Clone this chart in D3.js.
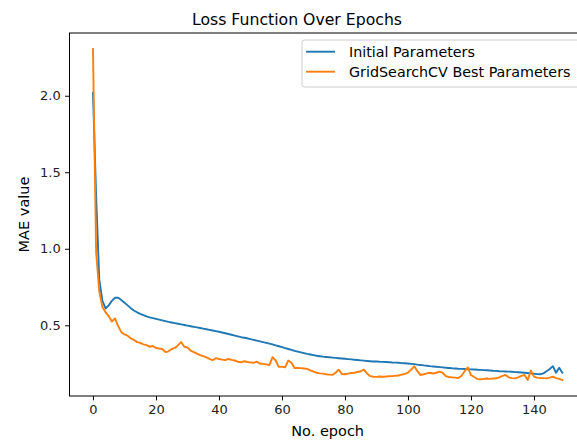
<!DOCTYPE html>
<html>
<head>
<meta charset="utf-8">
<script src="https://cdn.jsdelivr.net/npm/d3@7"></script>
<style>
  html, body { margin: 0; padding: 0; background: #fff; }
  svg { display: block; font-family: "DejaVu Sans", sans-serif; }
</style>
</head>
<body>
<svg id="chart" width="577" height="441"></svg>
<script>
// MAE per epoch, model trained with the initial hyper-parameters
const initialLoss = [
  2.02, 1.35, 0.80, 0.66, 0.61, 0.63, 0.66, 0.68, 0.68, 0.665,
  0.648, 0.63, 0.612, 0.597, 0.585, 0.575, 0.566, 0.558, 0.552, 0.547,
  0.542, 0.537, 0.532, 0.527, 0.522, 0.518, 0.514, 0.51, 0.506, 0.502,
  0.498, 0.494, 0.49, 0.486, 0.482, 0.478, 0.474, 0.47, 0.466, 0.462,
  0.458, 0.453, 0.448, 0.443, 0.438, 0.433, 0.428, 0.423, 0.419, 0.415,
  0.41, 0.405, 0.4, 0.395, 0.39, 0.385, 0.38, 0.375, 0.369, 0.363,
  0.357, 0.351, 0.345, 0.339, 0.333, 0.328, 0.323, 0.318, 0.313, 0.309,
  0.305, 0.301, 0.298, 0.295, 0.293, 0.291, 0.289, 0.287, 0.285, 0.283,
  0.281, 0.279, 0.277, 0.275, 0.273, 0.271, 0.269, 0.267, 0.265, 0.263,
  0.264, 0.262, 0.261, 0.26, 0.259, 0.257, 0.256, 0.255, 0.253, 0.252,
  0.25, 0.248, 0.246, 0.243, 0.241, 0.238, 0.236, 0.233, 0.231, 0.229,
  0.227, 0.225, 0.223, 0.221, 0.219, 0.218, 0.216, 0.215, 0.214, 0.213,
  0.212, 0.211, 0.21, 0.209, 0.207, 0.206, 0.205, 0.203, 0.202, 0.2,
  0.199, 0.198, 0.197, 0.196, 0.194, 0.193, 0.192, 0.19, 0.188, 0.186,
  0.183, 0.181, 0.18, 0.186, 0.2, 0.215, 0.233, 0.19, 0.222, 0.19
];

// MAE per epoch, model trained with the GridSearchCV best hyper-parameters
const tunedLoss = [
  2.305, 0.98, 0.72, 0.62, 0.585, 0.56, 0.525, 0.545, 0.495, 0.455,
  0.44, 0.432, 0.415, 0.405, 0.39, 0.385, 0.375, 0.37, 0.36, 0.365,
  0.352, 0.348, 0.345, 0.325, 0.33, 0.345, 0.352, 0.37, 0.39, 0.36,
  0.355, 0.335, 0.325, 0.315, 0.305, 0.298, 0.29, 0.28, 0.272, 0.285,
  0.28, 0.276, 0.272, 0.28, 0.274, 0.27, 0.262, 0.258, 0.265, 0.26,
  0.258, 0.255, 0.262, 0.25, 0.248, 0.245, 0.24, 0.292, 0.27, 0.228,
  0.23, 0.225, 0.27, 0.255, 0.22, 0.222, 0.22, 0.218, 0.215, 0.205,
  0.198, 0.19, 0.186, 0.184, 0.18, 0.178, 0.176, 0.19, 0.21, 0.182,
  0.18, 0.184, 0.188, 0.19, 0.195, 0.2, 0.21, 0.185, 0.168, 0.164,
  0.163, 0.165, 0.164, 0.165, 0.167, 0.168, 0.17, 0.172, 0.178, 0.182,
  0.19, 0.21, 0.232, 0.2, 0.175, 0.18, 0.186, 0.19, 0.185, 0.19,
  0.197, 0.19, 0.168, 0.162, 0.16, 0.158, 0.155, 0.17, 0.2, 0.225,
  0.175, 0.162, 0.15, 0.147, 0.15, 0.152, 0.15, 0.152, 0.153, 0.16,
  0.17, 0.175, 0.16, 0.155, 0.153, 0.16, 0.17, 0.175, 0.142, 0.205,
  0.165, 0.158, 0.155, 0.155, 0.153, 0.158, 0.164, 0.155, 0.15, 0.142
];

const seriesNames = ["Initial Parameters", "GridSearchCV Best Parameters"];
const seriesColors = ["#1f77b4", "#ff7f0e"];
const xTicks = [0, 20, 40, 60, 80, 100, 120, 140];
const yTicks = [0.5, 1.0, 1.5, 2.0];

const svg = d3.select("#chart");
const plot = { left: 69.5, right: 585.8, top: 33, bottom: 396 };

const x = d3.scaleLinear().domain([-7.45, 156.45]).range([plot.left, plot.right]);
const y = d3.scaleLinear().domain([0.038, 2.41]).range([plot.bottom, plot.top]);

svg.append("defs").append("clipPath").attr("id", "plotClip")
  .append("rect")
  .attr("x", plot.left).attr("y", plot.top)
  .attr("width", plot.right - plot.left).attr("height", plot.bottom - plot.top);

// loss curves
const line = d3.line().x((d, i) => x(i)).y(d => y(d));
const series = [initialLoss, tunedLoss];
series.forEach((vals, k) => {
  svg.append("path")
    .datum(vals)
    .attr("clip-path", "url(#plotClip)")
    .attr("fill", "none")
    .attr("stroke", seriesColors[k])
    .attr("stroke-width", 1.9)
    .attr("stroke-linejoin", "round")
    .attr("stroke-linecap", "square")
    .attr("d", line);
});

// axes
const xAxis = d3.axisBottom(x).tickValues(xTicks).tickSize(4.4).tickPadding(4.4).tickFormat(d3.format("d"));
const yAxis = d3.axisLeft(y).tickValues(yTicks).tickSize(4.4).tickPadding(4.4).tickFormat(d3.format(".1f"));

const gx = svg.append("g").attr("transform", `translate(0,${plot.bottom})`).call(xAxis);
const gy = svg.append("g").attr("transform", `translate(${plot.left},0)`).call(yAxis);
[gx, gy].forEach(g => {
  g.select(".domain").remove();
  g.selectAll(".tick line").attr("stroke", "#000").attr("stroke-width", 1);
  g.selectAll(".tick text").attr("fill", "#222").style("font-size", "13px")
    .style("font-family", "'DejaVu Sans', sans-serif");
});

// frame
svg.append("rect")
  .attr("x", plot.left).attr("y", plot.top)
  .attr("width", plot.right - plot.left).attr("height", plot.bottom - plot.top)
  .attr("fill", "none").attr("stroke", "#000").attr("stroke-width", 1);

// titles
svg.append("text")
  .attr("x", 297).attr("y", 25)
  .attr("text-anchor", "middle")
  .style("font-size", "15.7px")
  .text("Loss Function Over Epochs");

svg.append("text")
  .attr("x", (plot.left + plot.right) / 2).attr("y", 436)
  .attr("text-anchor", "middle")
  .style("font-size", "14.5px")
  .text("No. epoch");

svg.append("text")
  .attr("transform", `translate(28.5,${(plot.top + plot.bottom) / 2}) rotate(-90)`)
  .attr("text-anchor", "middle")
  .style("font-size", "14.5px")
  .text("MAE value");

// legend
const legend = svg.append("g");
legend.append("rect")
  .attr("x", 302).attr("y", 40)
  .attr("width", 300).attr("height", 47)
  .attr("rx", 2.5)
  .attr("fill", "#fff").attr("fill-opacity", 0.8)
  .attr("stroke", "#cccccc").attr("stroke-width", 1);

seriesNames.forEach((name, k) => {
  const cy = 51.7 + k * 20;
  legend.append("line")
    .attr("x1", 306).attr("x2", 335)
    .attr("y1", cy).attr("y2", cy)
    .attr("stroke", seriesColors[k]).attr("stroke-width", 1.9);
  legend.append("text")
    .attr("x", 349).attr("y", cy)
    .attr("dy", "0.35em")
    .style("font-size", "14.3px")
    .text(name);
});
</script>
</body>
</html>
